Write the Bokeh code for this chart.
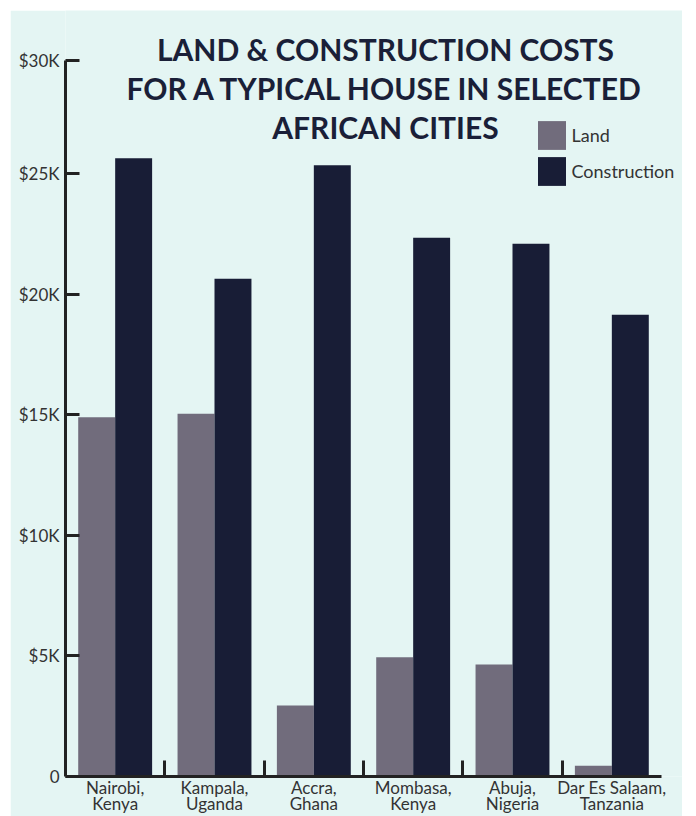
from bokeh.plotting import figure
from bokeh.models import (ColumnDataSource, Range1d, FixedTicker, Label, Spacer)
from bokeh.layouts import column, row
from bokeh.transform import dodge
from bokeh.embed import file_html
from bokeh.resources import INLINE

# ---------------- data ----------------
cities = ["Nairobi", "Kampala", "Accra", "Mombasa", "Abuja", "Dar Es Salaam"]
countries = ["Kenya", "Uganda", "Ghana", "Kenya", "Nigeria", "Tanzania"]
land = [14900, 15050, 2950, 4950, 4650, 450]
construction = [25650, 20650, 25350, 22350, 22100, 19150]
series_names = ["Land", "Construction"]
y_ticks = [0, 5000, 10000, 15000, 20000, 25000, 29700]
y_tick_labels = ["0", "$5K", "$10K", "$15K", "$20K", "$25K", "$30K"]
title_text = "LAND & CONSTRUCTION COSTS\nFOR A TYPICAL HOUSE IN SELECTED\nAFRICAN CITIES"

# ---------------- style / layout ----------------
BG = "#e4f5f3"
LAND_C = "#716c7c"
CONS_C = "#181d36"
AXIS_C = "#222222"
TEXT_C = "#333333"
TITLE_C = "#1a1f38"
FONT = "Lato"

FIG_W, FIG_H = 672, 806
LEFT, BOTTOM = 55, 40          # side panels (axis labels)
PLOT_W, PLOT_H = 596, 716       # extent of the axes inside the frame
FRAME_W, FRAME_H = FIG_W - LEFT, FIG_H - BOTTOM

n = len(cities)
cat_labels = [f"{c},\n{k}" for c, k in zip(cities, countries)]
centers = [i + 0.5 for i in range(n)]
bounds_ticks = list(range(1, n))
y_top = y_ticks[-1]

src = ColumnDataSource(dict(xc=centers, land=land, construction=construction))

p = figure(x_range=Range1d(0, n * FRAME_W / PLOT_W),
           y_range=Range1d(0, y_top * FRAME_H / PLOT_H),
           width=FIG_W, height=FIG_H, output_backend="svg", toolbar_location=None,
           min_border_left=LEFT, min_border_right=0, min_border_top=0,
           min_border_bottom=BOTTOM, background_fill_color=BG, border_fill_color=BG,
           outline_line_color=None)

bw = 0.372
p.vbar(x=dodge("xc", -0.186), top="land", width=bw, source=src,
       fill_color=LAND_C, line_color=None, legend_label=series_names[0])
p.vbar(x=dodge("xc", 0.186), top="construction", width=bw, source=src,
       fill_color=CONS_C, line_color=None, legend_label=series_names[1])

p.xgrid.visible = False
p.ygrid.visible = False

# y axis
ya = p.yaxis[0]
ya.bounds = (0, y_top)
ya.ticker = FixedTicker(ticks=y_ticks)
ya.major_label_overrides = {t: l for t, l in zip(y_ticks, y_tick_labels)}
ya.major_label_text_font = FONT
ya.major_label_text_font_size = "17px"
ya.major_label_text_color = TEXT_C
ya.major_label_standoff = 6
ya.major_tick_in = 14
ya.major_tick_out = 0
ya.major_tick_line_width = 3
ya.major_tick_line_color = AXIS_C
ya.minor_tick_line_color = None
ya.axis_line_width = 3
ya.axis_line_color = AXIS_C

# x axis: labels at category centres, minor ticks at category boundaries
xa = p.xaxis[0]
xa.bounds = (0, n)
xa.ticker = FixedTicker(ticks=centers, minor_ticks=bounds_ticks)
xa.major_label_overrides = {c: l for c, l in zip(centers, cat_labels)}
xa.major_tick_line_color = None
xa.major_tick_in = 0
xa.major_tick_out = 0
xa.minor_tick_in = 16
xa.minor_tick_out = 0
xa.minor_tick_line_width = 3
xa.minor_tick_line_color = AXIS_C
xa.major_label_text_font = FONT
xa.major_label_text_font_size = "17px"
xa.major_label_text_color = TEXT_C
xa.major_label_text_line_height = 0.78
xa.major_label_standoff = 0
xa.axis_line_width = 3
xa.axis_line_color = AXIS_C

# title (inside the frame, above the axes)
p.add_layout(Label(x=n / 2, y=y_top, x_offset=22, y_offset=30, text=title_text,
                   text_font=FONT, text_font_size="30px", text_font_style="bold",
                   text_color=TITLE_C, text_align="center", text_baseline="top",
                   text_line_height=1.085))

# legend
lg = p.legend[0]
lg.location = (468.5, 587)
lg.padding = 0
lg.margin = 0
lg.spacing = -1
lg.glyph_width = 35
lg.glyph_height = 36
lg.label_standoff = 3
lg.label_text_font = FONT
lg.label_text_font_size = "18px"
lg.label_text_color = TEXT_C
lg.background_fill_alpha = 0
lg.border_line_color = None

layout = column(Spacer(height=10), row(Spacer(width=10), p))
open("out.html", "w").write(file_html(layout, INLINE))
